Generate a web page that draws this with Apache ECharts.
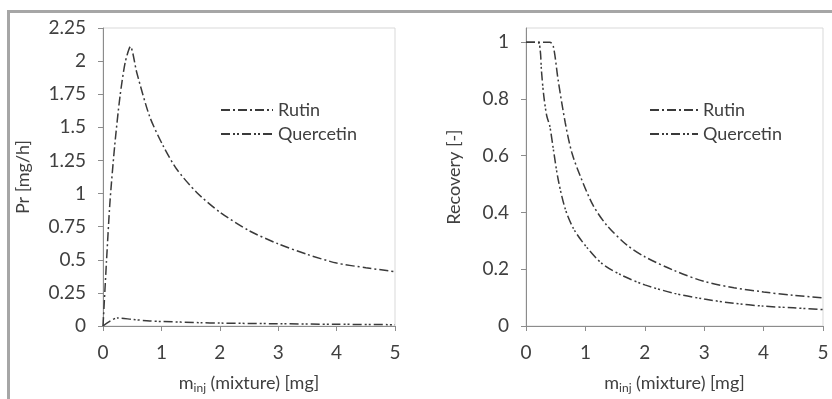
<!DOCTYPE html>
<html><head><meta charset="utf-8">
<script src="https://cdn.jsdelivr.net/npm/echarts@6/dist/echarts.min.js"></script>
<style>html,body{margin:0;padding:0;background:#fff}#c{width:832px;height:399px}</style>
</head><body><div id="c"></div>
<script>
// Left panel: productivity Pr [mg/h]
const rutinPr = [[0,0],[0.06,0.49],[0.12,0.94],[0.2,1.36],[0.29,1.73],[0.38,1.99],[0.47,2.11],[0.58,1.91],[0.8,1.58],[1.03,1.36],[1.26,1.185],[1.6,1.01],[2.0,0.86],[2.5,0.72],[3.0,0.62],[3.5,0.54],[4.0,0.475],[4.5,0.44],[5.0,0.41]];
const quercetinPr = [[0,0],[0.25,0.06],[0.5,0.05],[0.8,0.038],[1.0,0.034],[1.66,0.025],[2.0,0.022],[3.0,0.017],[4.0,0.013],[5.0,0.01]];
// Right panel: recovery [-]
const rutinRec = [[0,1],[0.4,1],[0.46,0.985],[0.54,0.868],[0.66,0.717],[0.77,0.612],[0.91,0.53],[1.13,0.425],[1.36,0.355],[1.7,0.285],[2.0,0.244],[2.5,0.195],[3.0,0.157],[3.5,0.135],[4.0,0.12],[4.5,0.108],[5.0,0.099]];
const quercetinRec = [[0,1],[0.2,1],[0.24,0.97],[0.26,0.9],[0.3,0.81],[0.35,0.74],[0.4,0.705],[0.46,0.623],[0.54,0.518],[0.66,0.413],[0.8,0.343],[1.02,0.278],[1.28,0.22],[1.6,0.18],[2.0,0.145],[2.5,0.115],[3.0,0.095],[3.5,0.08],[4.0,0.07],[4.5,0.064],[5.0,0.058]];
const xTicks = [0,1,2,3,4,5];
const recTicks = [0,0.2,0.4,0.6,0.8,1];
const names = ['Rutin','Quercetin'];

const FONT = 'Lato';
const FS = 18;
const TFS = 19;
const TXT = '#404040';
const AX = '#8c8c8c';
const rutinDash = [9,3,2,3];
const quercDash = [9,3,2,2,2,3];

function xAxis(gi){
  return {type:'value',gridIndex:gi,min:0,max:5,interval:1,
    name:'{a|m}{s|inj}{a| (mixture) [mg]}',nameLocation:'middle',nameGap:47,
    nameTextStyle:{fontFamily:FONT,fontSize:FS,color:TXT,
      rich:{a:{fontFamily:FONT,fontSize:FS,color:TXT},s:{fontFamily:FONT,fontSize:12,color:TXT,padding:[9,0,0,0]}}},
    axisLine:{show:true,lineStyle:{color:AX,width:1}},
    axisTick:{show:true,length:5,lineStyle:{color:AX}},
    axisLabel:{fontFamily:FONT,fontSize:TFS,color:TXT,margin:17},
    splitLine:{show:false}};
}
const legendText = {fontFamily:FONT,fontSize:FS,color:TXT};
const chart = echarts.init(document.getElementById('c'));
chart.setOption({
  animation:false,
  backgroundColor:'#fff',
  graphic:[{type:'rect',shape:{x:8.5,y:11.5,width:900,height:500},style:{fill:'none',stroke:'#a6a6a6',lineWidth:3},silent:true}],
  grid:[
    {left:103,top:28,width:292,height:300,show:true,borderColor:'#d9d9d9',borderWidth:1},
    {left:526,top:28,width:297,height:300,show:true,borderColor:'#d9d9d9',borderWidth:1}
  ],
  legend:[
    {data:names,orient:'vertical',left:215,top:96,itemGap:6,itemWidth:52,itemHeight:18,
     itemStyle:{opacity:0},textStyle:legendText},
    {data:names,orient:'vertical',left:644,top:96,itemGap:6,itemWidth:48,itemHeight:18,
     itemStyle:{opacity:0},textStyle:legendText}
  ],
  xAxis:[xAxis(0),xAxis(1)],
  yAxis:[
    {type:'value',gridIndex:0,min:0,max:2.25,interval:0.25,name:'Pr [mg/h]',nameLocation:'middle',nameGap:71,
     nameTextStyle:{fontFamily:FONT,fontSize:FS,color:TXT},
     axisLine:{show:true,lineStyle:{color:AX}},axisTick:{show:true,length:5,lineStyle:{color:AX}},
     axisLabel:{fontFamily:FONT,fontSize:TFS,color:TXT,margin:17},splitLine:{show:false}},
    {type:'value',gridIndex:1,min:0,max:1.05,name:'Recovery [-]',nameLocation:'middle',nameGap:63,
     nameTextStyle:{fontFamily:FONT,fontSize:FS,color:TXT},
     axisLine:{show:true,lineStyle:{color:AX}},
     axisTick:{show:true,length:5,lineStyle:{color:AX},customValues:recTicks},
     axisLabel:{fontFamily:FONT,fontSize:TFS,color:TXT,margin:17,customValues:recTicks},splitLine:{show:false}}
  ],
  series:[
    {name:'Rutin',type:'line',xAxisIndex:0,yAxisIndex:0,data:rutinPr,symbol:'none',smooth:0.25,
     lineStyle:{color:'#3a3a3a',width:1.5,type:rutinDash},itemStyle:{color:'#3a3a3a'}},
    {name:'Quercetin',type:'line',xAxisIndex:0,yAxisIndex:0,data:quercetinPr,symbol:'none',smooth:0.3,
     lineStyle:{color:'#3a3a3a',width:1.5,type:quercDash},itemStyle:{color:'#3a3a3a'}},
    {name:'Rutin',type:'line',xAxisIndex:1,yAxisIndex:1,data:rutinRec,symbol:'none',smooth:0.3,
     lineStyle:{color:'#3a3a3a',width:1.5,type:rutinDash},itemStyle:{color:'#3a3a3a'}},
    {name:'Quercetin',type:'line',xAxisIndex:1,yAxisIndex:1,data:quercetinRec,symbol:'none',smooth:0.3,
     lineStyle:{color:'#3a3a3a',width:1.5,type:quercDash},itemStyle:{color:'#3a3a3a'}}
  ]
});
</script></body></html>
